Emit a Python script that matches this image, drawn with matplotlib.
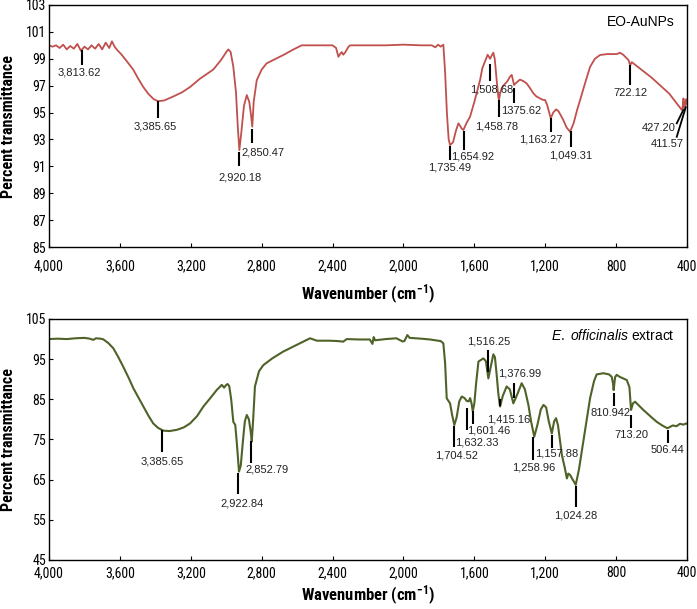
import matplotlib
matplotlib.use("Agg")
import matplotlib.pyplot as plt
from matplotlib.ticker import FuncFormatter
from matplotlib import font_manager

names = {f.name for f in font_manager.fontManager.ttflist}
narrow = "Liberation Sans"
for cand in ["Liberation Sans Narrow", "Arial Narrow", "Arimo Narrow", "Roboto Condensed",
             "Archivo Narrow", "Asap Condensed", "Barlow Semi Condensed"]:
    if cand in names:
        narrow = cand
        break

plt.rcParams['font.family'] = ['Liberation Sans', 'DejaVu Sans']
plt.rcParams['mathtext.fontset'] = 'custom'
plt.rcParams['mathtext.rm'] = 'Liberation Sans'
plt.rcParams['mathtext.it'] = 'Liberation Sans:italic'
plt.rcParams['mathtext.bf'] = narrow + ':bold'

# ---------------------------------------------------------
# DATA
# ---------------------------------------------------------

# EO-AuNPs spectrum
au_wn = [4000, 3980, 3960, 3940, 3920, 3900, 3880, 3860, 3840, 3820, 3800, 3780,
         3760, 3740, 3720, 3700, 3680, 3660, 3645, 3630, 3615, 3590, 3560, 3525,
         3500, 3468, 3440, 3410, 3385, 3350, 3298, 3250, 3204, 3150, 3073, 3030,
         2997, 2988, 2975, 2960, 2945, 2935, 2926, 2915, 2900, 2884, 2870, 2860,
         2853, 2845, 2828, 2800, 2772, 2720, 2678, 2620, 2574, 2400, 2380, 2367,
         2355, 2348, 2340, 2330, 2310, 2300, 2100, 2000, 1900, 1840, 1820, 1805,
         1790, 1775, 1765, 1755, 1745, 1737, 1720, 1705, 1690, 1680, 1671, 1662,
         1645, 1624, 1600, 1568, 1555, 1540, 1525, 1511, 1500, 1493, 1485, 1474,
         1465, 1461, 1455, 1446, 1430, 1415, 1399, 1389, 1382, 1376, 1365, 1343,
         1325, 1305, 1285, 1267, 1250, 1230, 1215, 1201, 1190, 1182, 1169, 1155,
         1139, 1125, 1098, 1080, 1060, 1040, 1020, 1004, 975, 947, 920, 891,
         850, 797, 778, 760, 740, 730, 721, 712, 703, 600, 500, 430,
         425, 420, 416, 410, 405, 400]
au_t = [100.0, 99.9, 100.0, 99.8, 100.05, 99.7, 99.95, 99.75, 100.1, 99.6, 99.9, 99.7,
        100.0, 99.75, 100.1, 99.7, 100.2, 99.8, 100.3, 99.9, 99.65, 99.3, 98.8, 98.2,
        97.6, 96.9, 96.4, 96.0, 95.85, 95.9, 96.2, 96.5, 96.9, 97.5, 98.2, 98.9,
        99.55, 99.7, 99.5, 98.4, 96.5, 94.0, 92.2, 93.5, 95.5, 96.3, 95.8, 94.8,
        93.95, 95.8, 97.4, 98.2, 98.66, 99.0, 99.28, 99.7, 100.0, 100.0, 99.8, 99.15,
        99.4, 99.5, 99.3, 99.45, 99.9, 100.0, 100.0, 100.05, 100.0, 100.0, 99.85, 100.05,
        99.9, 100.05, 98.0, 95.0, 93.0, 92.58, 92.8, 93.6, 94.2, 94.0, 93.8, 93.7,
        94.2, 94.7, 95.8, 97.4, 98.3, 98.8, 99.3, 99.0, 99.3, 99.45, 99.0, 97.4,
        96.2, 95.93, 96.4, 96.8, 97.1, 97.3, 97.67, 97.8, 97.4, 97.05, 97.2, 97.45,
        97.35, 97.17, 96.8, 96.43, 96.2, 96.06, 95.95, 95.93, 95.6, 95.2, 94.57, 95.0,
        95.24, 95.1, 94.44, 93.9, 93.57, 94.2, 95.2, 95.9, 97.2, 98.4, 99.0, 99.28,
        99.35, 99.35, 99.45, 99.3, 99.03, 98.9, 98.5, 98.75, 98.66, 97.6, 96.4, 95.2,
        95.4, 96.05, 95.3, 95.7, 96.0, 95.6]

# E. officinalis extract spectrum
ex_wn = [4000, 3950, 3900, 3850, 3800, 3770, 3750, 3735, 3710, 3694, 3665, 3637,
         3610, 3581, 3550, 3524, 3495, 3468, 3440, 3412, 3385, 3355, 3320, 3279,
         3240, 3204, 3165, 3129, 3090, 3054, 3025, 3012, 3000, 2992, 2983, 2972,
         2960, 2949, 2940, 2928, 2918, 2905, 2895, 2884, 2872, 2862, 2856, 2848,
         2838, 2815, 2791, 2740, 2678, 2600, 2527, 2489, 2420, 2370, 2340, 2320,
         2250, 2190, 2175, 2168, 2160, 2100, 2040, 2005, 1995, 1978, 1965, 1900,
         1850, 1790, 1775, 1765, 1756, 1737, 1725, 1713, 1700, 1685, 1671, 1655,
         1643, 1632, 1624, 1616, 1609, 1600, 1590, 1577, 1549, 1535, 1521, 1508,
         1493, 1484, 1474, 1465, 1455, 1440, 1418, 1400, 1380, 1360, 1333, 1315,
         1295, 1280, 1262, 1245, 1225, 1210, 1195, 1180, 1163, 1150, 1139, 1128,
         1106, 1090, 1078, 1070, 1060, 1045, 1028, 1010, 985, 965, 947, 925,
         910, 872, 840, 825, 818, 814, 806, 797, 780, 760, 740, 725,
         716, 705, 693, 650, 600, 571, 540, 511, 480, 460, 440, 420,
         405, 400]
ex_t = [100.0, 100.1, 100.0, 100.2, 100.3, 100.1, 99.8, 100.2, 100.1, 99.95, 99.0, 97.7,
        95.6, 93.1, 90.3, 87.75, 85.4, 83.2, 81.0, 79.0, 77.9, 77.2, 77.1, 77.4,
        78.0, 79.0, 80.8, 83.2, 85.3, 87.3, 88.6, 87.9, 88.6, 88.8, 88.3, 85.0,
        79.4, 78.6, 74.0, 67.0, 68.5, 75.0, 79.5, 81.1, 80.0, 77.0, 74.5, 80.0,
        88.2, 92.0, 93.5, 95.2, 96.9, 98.6, 100.2, 99.6, 99.6, 99.5, 99.36, 100.0,
        99.9, 99.9, 98.8, 100.5, 99.7, 100.0, 100.2, 99.4, 99.5, 101.0, 100.3, 100.1,
        99.9, 99.5, 98.95, 94.0, 85.25, 84.0, 81.0, 78.6, 80.5, 84.5, 85.7, 85.3,
        84.6, 84.5, 85.3, 84.0, 82.0, 84.0, 89.0, 94.4, 95.2, 94.5, 90.2, 93.0,
        96.2, 95.5, 91.1, 86.5, 83.2, 85.8, 88.2, 87.5, 84.0, 86.0, 89.0, 87.5,
        83.6, 79.5, 75.7, 78.5, 82.5, 83.6, 83.0, 79.5, 76.5, 79.5, 80.3, 78.5,
        71.1, 68.0, 65.3, 66.5, 66.2, 65.0, 63.7, 67.5, 74.5, 80.0, 85.3, 89.5,
        91.2, 91.5, 91.2, 90.6, 89.0, 87.3, 90.5, 91.1, 90.6, 90.2, 89.8, 88.0,
        82.35, 84.0, 84.4, 82.5, 80.5, 79.4, 78.5, 77.8, 78.5, 78.3, 78.9, 78.7,
        79.0, 78.9]

# peak labels: text, marker x, marker top/bottom, label x, label y
au_labels = ["3,813.62", "3,385.65", "2,920.18", "2,850.47", "1,735.49", "1,654.92",
             "1,508.68", "1,458.78", "1375.62", "1,163.27", "1,049.31", "722.12"]
au_mark_x = [3813, 3385, 2926, 2853, 1737, 1658, 1511, 1459, 1376, 1165, 1056, 721]
au_mark_y0 = [99.65, 95.85, 92.1, 93.8, 92.5, 93.6, 98.6, 95.9, 96.8, 94.6, 93.6, 98.5]
au_mark_y1 = [98.55, 94.6, 91.0, 92.7, 91.5, 92.2, 97.35, 94.7, 95.7, 93.55, 92.45, 97.05]
au_text_x = [3831, 3400, 2922, 2791, 1737, 1609, 1502, 1474, 1333, 1224, 1056, 721]
au_text_y = [97.95, 93.95, 90.2, 92.0, 90.9, 91.7, 96.72, 94.0, 95.1, 93.0, 91.84, 96.47]

# slanted markers at the right edge of the top spectrum
au_edge_labels = ["427.20", "411.57"]
au_edge_x0 = [421, 407]
au_edge_y0 = [95.19, 95.4]
au_edge_x1 = [458, 458]
au_edge_y1 = [94.2, 93.2]
au_edge_tx = [561, 511]
au_edge_ty = [93.87, 92.63]

ex_labels = ["3,385.65", "2,922.84", "2,852.79", "1,704.52", "1,632.33", "1,601.46",
             "1,516.25", "1,415.16", "1,376.99", "1,258.96", "1,157.88", "1,024.28",
             "810.942", "713.20", "506.44"]
ex_mark_x = [3364, 2935, 2862, 1713, 1640, 1606, 1521, 1453, 1378, 1267, 1162, 1026, 812, 714, 509]
ex_mark_y0 = [77.4, 66.6, 74.5, 78.4, 82.8, 82.0, 97.3, 85.0, 89.0, 75.5, 76.1, 63.5, 86.5, 81.1, 77.4]
ex_mark_y1 = [72.0, 61.4, 69.2, 73.2, 77.4, 78.9, 91.9, 83.3, 85.25, 69.9, 72.8, 58.3, 83.3, 77.9, 74.2]
ex_text_x = [3364, 2909, 2772, 1703, 1587, 1521, 1521, 1408, 1342, 1263, 1136, 1026, 834, 712, 509]
ex_text_y = [69.6, 59.1, 67.6, 70.9, 74.2, 77.2, 99.5, 79.9, 91.5, 68.1, 71.4, 56.0, 81.5, 76.1, 72.4]


# ---------------------------------------------------------
# PLOT
# ---------------------------------------------------------

def style_axes(ax, ylim, yticks, xlabel_y, xpad):
    ax.set_xlim(4000, 400)
    ax.set_ylim(*ylim)
    ax.set_xticks(range(4000, 399, -400))
    ax.set_yticks(yticks)
    ax.xaxis.set_major_formatter(FuncFormatter(lambda v, p: f"{v:,.0f}"))
    ax.tick_params(direction="in", length=3, width=0.8, labelsize=10,
                   top=False, right=False)
    ax.tick_params(axis="x", pad=xpad)
    ax.tick_params(axis="y", pad=2)
    for lab in ax.get_xticklabels() + ax.get_yticklabels():
        lab.set_family(narrow)
    for s in ax.spines.values():
        s.set_linewidth(1.0)
    ax.set_xlabel(r"Wavenumber (cm$^{\mathbf{-1}}$)", fontsize=12,
                  fontweight="bold", family=narrow)
    ax.set_ylabel("Percent transmittance", fontsize=11.5, fontweight="bold",
                  family=narrow)
    ax.xaxis.set_label_coords(0.5, xlabel_y)
    ax.yaxis.set_label_coords(-0.052, 0.5)


def draw_marks(ax, xs, y0s, y1s):
    for x, a, b in zip(xs, y0s, y1s):
        ax.plot([x, x], [a, b], color="black", lw=1.5, solid_capstyle="butt")


fig = plt.figure(figsize=(6.97, 6.09), dpi=100)
ax1 = fig.add_axes([0.0703, 0.5944, 0.9154, 0.3974])
ax2 = fig.add_axes([0.0703, 0.0805, 0.9154, 0.3957])

# top: EO-AuNPs
ax1.plot(au_wn, au_t, color="#c0504d", lw=1.3)
style_axes(ax1, (85, 103), range(85, 104, 2), -0.149, 9)
draw_marks(ax1, au_mark_x, au_mark_y0, au_mark_y1)
for t, x, y in zip(au_labels, au_text_x, au_text_y):
    ax1.text(x, y, t, fontsize=8, ha="center", va="center", color="#222222")
for i in range(len(au_edge_labels)):
    ax1.plot([au_edge_x0[i], au_edge_x1[i]], [au_edge_y0[i], au_edge_y1[i]],
             color="black", lw=1.3)
    ax1.text(au_edge_tx[i], au_edge_ty[i], au_edge_labels[i], fontsize=8,
             ha="center", va="center", color="#222222")
ax1.text(0.98, 0.93, "EO-AuNPs", transform=ax1.transAxes, fontsize=10,
         ha="right", va="center")

# bottom: E. officinalis extract
ax2.plot(ex_wn, ex_t, color="#4f6228", lw=1.5)
style_axes(ax2, (45, 105), range(45, 106, 10), -0.1, 4.5)
draw_marks(ax2, ex_mark_x, ex_mark_y0, ex_mark_y1)
for t, x, y in zip(ex_labels, ex_text_x, ex_text_y):
    ax2.text(x, y, t, fontsize=8, ha="center", va="center", color="#222222")
ax2.text(0.98, 0.93, r"$\mathit{E.\ officinalis}$ extract", transform=ax2.transAxes,
         fontsize=10, ha="right", va="center")

fig.savefig("out.png", dpi=100)
